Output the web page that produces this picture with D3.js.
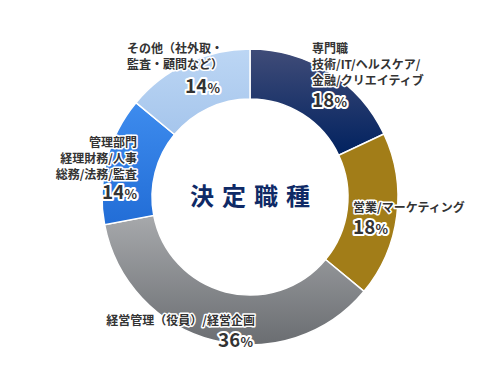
<!DOCTYPE html>
<html>
<head>
<meta charset="utf-8">
<script src="https://cdn.jsdelivr.net/npm/d3@7"></script>
<style>
  html, body { margin: 0; padding: 0; background: #fff; }
  svg text { font-family: "Noto Sans CJK JP", "Noto Sans", sans-serif; font-weight: bold; }
  .lbl { fill: #333; stroke: #fff; stroke-width: 3px; paint-order: stroke; stroke-linejoin: round; }
</style>
</head>
<body>
<svg id="chart" width="500" height="392"></svg>
<script>
const categories = ["専門職", "営業/マーケティング", "経営管理/経営企画", "管理部門", "その他"];
const values = [18, 18, 36, 14, 14];
const labelLines = [
  ["専門職", "技術/IT/ヘルスケア/", "金融/クリエイティブ"],
  ["営業/マーケティング"],
  ["経営管理（役員）/経営企画"],
  ["管理部門", "経理財務/人事", "総務/法務/監査"],
  ["その他（社外取・", "監査・顧問など）"]
];
const centerTitle = "決定職種";

var svg = d3.select("svg#chart"),
  cx = 250, cy = 197,
  outerR = 148, innerR = 98;

// vertical gradients per slice, [top colour, bottom colour, y1, y2] relative to centre
const gradients = [
  ["#404c78", "#00215f", -148, -40],
  ["#a27d18", "#a27d18", -148, 148],
  ["#a6a8ab", "#6a6d71", 20, 148],
  ["#3f8def", "#1f6ad4", -100, 40],
  ["#bcd6f4", "#a5c5ec", -148, -60]
];
const defs = svg.append("defs");
gradients.forEach((g, i) => {
  const lg = defs.append("linearGradient")
    .attr("id", "grad" + i)
    .attr("gradientUnits", "userSpaceOnUse")
    .attr("x1", 0).attr("x2", 0)
    .attr("y1", g[2]).attr("y2", g[3]);
  lg.append("stop").attr("offset", "0%").attr("stop-color", g[0]);
  lg.append("stop").attr("offset", "100%").attr("stop-color", g[1]);
});

const pie = d3.pie().sort(null).value(d => d)(values);
const arc = d3.arc().innerRadius(innerR).outerRadius(outerR);

const chartG = svg.append("g").attr("transform", `translate(${cx}, ${cy})`);

chartG.selectAll("path.slice")
  .data(pie)
  .enter()
  .append("path")
  .attr("class", "slice")
  .attr("d", arc)
  .attr("fill", (d, i) => `url(#grad${i})`)
  .attr("stroke", "#fff")
  .attr("stroke-width", 1.5);

// center title
svg.append("text")
  .attr("x", cx + 4)
  .attr("y", cy + 8)
  .attr("text-anchor", "middle")
  .attr("fill", "#0f2a66")
  .style("font-size", "24px")
  .style("letter-spacing", "8px")
  .text(centerTitle);

// label layout (first line baseline, anchor, percent position)
const labelLayout = [
  { x: 312, y: 53, anchor: "start", px: 312, py: 107 },
  { x: 353, y: 212, anchor: "start", px: 353, py: 234 },
  { x: 255, y: 325, anchor: "end", px: 253, py: 347 },
  { x: 137, y: 147, anchor: "end", px: 137, py: 199 },
  { x: 127, y: 53, anchor: "start", px: 185, py: 93 }
];

const labels = svg.selectAll("g.label")
  .data(categories)
  .enter()
  .append("g")
  .attr("class", "label");

labels.each(function (d, i) {
  const L = labelLayout[i];
  const g = d3.select(this);
  labelLines[i].forEach((line, j) => {
    g.append("text")
      .attr("class", "lbl")
      .attr("x", L.x)
      .attr("y", L.y + j * 16)
      .attr("text-anchor", L.anchor)
      .style("font-size", "12px")
      .text(line);
  });
  const pct = g.append("text")
    .attr("class", "lbl")
    .attr("x", L.px)
    .attr("y", L.py)
    .attr("text-anchor", L.anchor)
    .style("font-size", "19px")
    .style("stroke-width", "4px");
  pct.append("tspan").text(values[i]);
  pct.append("tspan").style("font-size", "13px").text("%");
});
</script>
</body>
</html>
